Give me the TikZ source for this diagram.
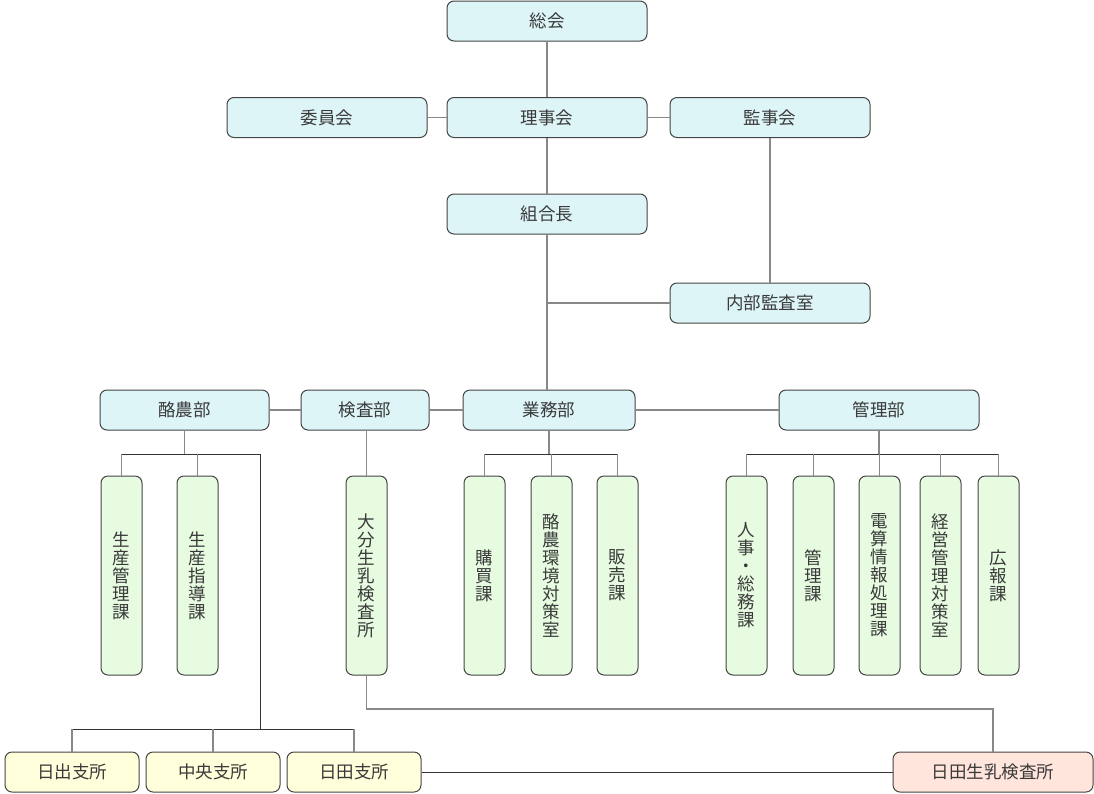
\documentclass[tikz,border=0pt]{standalone}
\usepackage{fontspec}
\setmainfont{Noto Sans CJK JP}
\usepackage{tikz}

\definecolor{blu}{HTML}{DEF5F8}
\definecolor{grn}{HTML}{E6FBE0}
\definecolor{yel}{HTML}{FFFFDC}
\definecolor{pnk}{HTML}{FFE5DC}
\definecolor{edge}{HTML}{444444}
\definecolor{txt}{HTML}{3A3A3A}
\definecolor{lgray}{HTML}{888888}
\definecolor{dgray}{HTML}{333333}

\begin{document}
\begin{tikzpicture}[x=1pt,y=-1pt,
	box/.style={draw=edge, line width=1pt, rounded corners=7pt, text=txt, inner sep=0pt,
		font=\fontsize{17.5}{20}\selectfont},
	bu/.style={box, fill=blu, minimum width=200pt, minimum height=40pt},
	ka/.style={box, fill=grn, minimum width=41pt, minimum height=199pt, align=center,
		font=\fontsize{17.5}{18}\selectfont},
	ye/.style={box, fill=yel, minimum width=134pt, minimum height=40pt},
	pk/.style={box, fill=pnk, minimum width=200pt, minimum height=40pt},
	link/.style={draw=lgray, line width=1.3pt},
	bus/.style={draw=dgray, line width=1pt}]
		\useasboundingbox (0,0) rectangle (1094,793);

		% top
		\node[bu] (sokai) at (547,21) {総会};
		\node[bu] (iin) at (327,117.5) {委員会};
		\node[bu] (riji) at (547,117.5) {理事会};
		\node[bu] (kanji) at (770,117.5) {監事会};
		\node[bu] (kumi) at (547,214) {組合長};
		\node[bu] (naibu) at (770,303) {内部監査室};

		% bu
		\node[bu, minimum width=169pt] (rakuno) at (184.5,410) {酪農部};
		\node[bu, minimum width=128pt] (kensa) at (365,410) {検査部};
		\node[bu, minimum width=172pt] (gyomu) at (549,410) {業務部};
		\node[bu] (kanri) at (879,410) {管理部};

		% ka
		\node[ka] (seikan) at (121.5,575.5) {生\\産\\管\\理\\課};
		\node[ka] (seishi) at (197.5,575.5) {生\\産\\指\\導\\課};
		\node[ka] (oita) at (366.5,575.5) {大\\分\\生\\乳\\検\\査\\所};
		\node[ka] (kobai) at (484.5,575.5) {購\\買\\課};
		\node[ka] (kankyo) at (551.5,575.5) {酪\\農\\環\\境\\対\\策\\室};
		\node[ka] (hanbai) at (617.5,575.5) {販\\売\\課};
		\node[ka] (jinji) at (746.5,575.5) {人\\事\\・\\総\\務\\課};
		\node[ka] (kanrika) at (813.5,575.5) {管\\理\\課};
		\node[ka] (densan) at (879.5,575.5) {電\\算\\情\\報\\処\\理\\課};
		\node[ka] (keiei) at (940.5,575.5) {経\\営\\管\\理\\対\\策\\室};
		\node[ka] (koho) at (998.5,575.5) {広\\報\\課};

		% shisho
		\node[ye] (hiji) at (72,772) {日出支所};
		\node[ye] (chuo) at (213,772) {中央支所};
		\node[ye] (hita) at (354,772) {日田支所};
		\node[pk] (hitaken) at (993,772) {日田生乳検査所};

		\coordinate (b1) at (0,454);
		\coordinate (b2) at (260,729);
		\coordinate (b3) at (0,709);

		\draw[link] (sokai) -- (riji);
		\draw[link] (iin) -- (riji);
		\draw[link] (riji) -- (kanji);
		\draw[link] (riji) -- (kumi);
		\draw[link] (kanji) -- (naibu);
		\draw[link] (kumi.south) -- (kumi.south |- gyomu.north);
		\draw[link] (kumi.south |- naibu.west) -- (naibu.west);
		\draw[link] (rakuno) -- (kensa);
		\draw[link] (kensa) -- (gyomu);
		\draw[link] (gyomu) -- (kanri);

		\draw[link] (rakuno) -- (rakuno |- b1);
		\draw[bus] (seikan |- b1) -| (b2);
		\draw[bus] (hiji |- b2) -- (hita |- b2);
		\foreach \n in {seikan,seishi}
			\draw[link] (\n |- b1) -- (\n);
		\foreach \n in {hiji,chuo,hita}
			\draw[link] (\n |- b2) -- (\n);

		\draw[link] (oita |- kensa.south) -- (oita);
		\draw[link] (oita) |- (hitaken |- b3) -- (hitaken);
		\draw[bus] (hita) -- (hitaken);

		\draw[link] (gyomu) -- (gyomu |- b1);
		\draw[bus] (kobai |- b1) -- (hanbai |- b1);
		\foreach \n in {kobai,kankyo,hanbai}
			\draw[link] (\n |- b1) -- (\n);

		\draw[link] (kanri) -- (kanri |- b1);
		\draw[bus] (jinji |- b1) -- (koho |- b1);
		\foreach \n in {jinji,kanrika,densan,keiei,koho}
			\draw[link] (\n |- b1) -- (\n);
\end{tikzpicture}
\end{document}
